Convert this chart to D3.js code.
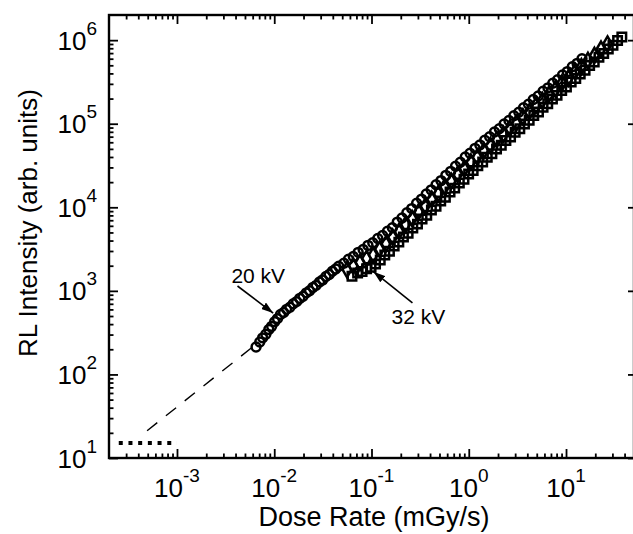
<!DOCTYPE html>
<html>
<head>
<meta charset="utf-8">
<script src="https://cdn.jsdelivr.net/npm/d3@7"></script>
<style>
  body { margin: 0; background: #fff; }
  text { font-family: "Liberation Sans", Arial, Helvetica, sans-serif; fill: #000; }
</style>
</head>
<body>
<svg id="chart" width="633" height="534"></svg>
<script>
// ---- data: dose rate (mGy/s) vs RL intensity (arb. units) ----
const series20kV = [
  [0.0065,213],[0.0071,244],[0.0076,274],[0.0082,303],[0.0088,345],[0.0094,376],[0.0101,428],
  [0.0108,466],[0.0116,522],[0.0125,552],[0.0134,601],[0.0145,637],[0.0157,701],[0.0170,744],
  [0.0183,813],[0.0198,862],[0.0214,947],[0.0231,1002],[0.0250,1101],[0.0270,1165],[0.0292,1280],
  [0.0315,1354],[0.0340,1484],[0.0367,1570],[0.0396,1720],[0.0428,1825],[0.046,1968],[0.052,2145],
  [0.058,2385],[0.065,2580],[0.073,2890],[0.082,3125],[0.092,3500],[0.103,3775],[0.116,4240],
  [0.130,4590],[0.146,5160],[0.164,5700],[0.184,6650],[0.206,7440],[0.231,8620],[0.259,9650],
  [0.291,11200],[0.327,12540],[0.366,14450],[0.411,16150],[0.461,18650],[0.518,20850],[0.581,24080],
  [0.652,26900],[0.731,31040],[0.820,34650],[0.921,40060],[1.03,44400],[1.16,50720],[1.30,55750],
  [1.46,63500],[1.64,69900],[1.84,79500],[2.06,87300],[2.31,99300],[2.59,109200],[2.91,124400],
  [3.27,137000],[3.66,155700],[4.11,171400],[4.61,195000],[5.18,214800],[5.81,244300],[6.52,268900],
  [7.31,305700],[8.20,336300],[9.21,383100],[10.3,420000],[11.6,479800],[13.0,527200],[14.6,600500]
];
const series26kV = [
  [0.056,1790],[0.065,1990],[0.076,2180],[0.089,2440],[0.104,2680],[0.121,3150],[0.141,3650],
  [0.165,4400],[0.192,5150],[0.224,6220],[0.262,7310],[0.305,8820],[0.356,10310],[0.416,12470],
  [0.485,14560],[0.566,17580],[0.660,20520],[0.770,24780],[0.899,28990],[1.05,34870],[1.22,39940],
  [1.43,47620],[1.67,54810],[1.94,64810],[2.27,74730],[2.64,88430],[3.08,101700],[3.60,121000],
  [4.20,139000],[4.90,165000],[5.71,189500],[6.67,225300],[7.78,258900],[9.07,307300],[10.6,353700],
  [12.4,421100],[14.4,482000],[16.8,572100],[19.6,657700],[22.9,782000],[26.7,898600]
];
const series32kV = [
  [0.063,1500],[0.072,1640],[0.080,1710],[0.089,1835],[0.099,1910],[0.110,2090],[0.123,2335],
  [0.137,2680],[0.153,2985],[0.171,3440],[0.191,3830],[0.213,4400],[0.238,4905],[0.266,5650],
  [0.297,6290],[0.331,7230],[0.370,8055],[0.413,9270],[0.461,10310],[0.515,11890],[0.575,13230],
  [0.642,15240],[0.717,16960],[0.800,19510],[0.893,21710],[0.997,24980],[1.11,27570],[1.24,31470],
  [1.39,34850],[1.55,39700],[1.73,43770],[1.93,49900],[2.16,55180],[2.41,62880],[2.69,69370],
  [3.00,79000],[3.35,87130],[3.74,99400],[4.18,109800],[4.66,125100],[5.21,138100],[5.81,157300],
  [6.49,173600],[7.25,198200],[8.09,218400],[9.03,249100],[10.1,275200],[11.3,314800],[12.6,346600],
  [14.0,393300],[15.7,435900],[17.5,496300],[19.5,546300],[21.8,624100],[24.4,690200],[27.2,786100],
  [30.4,867800],[33.9,988400],[37.5,1089000]
];
// extrapolated fit toward low dose rate, and the detection floor
const fitLine = [[4.93e-4, 21.2], [6.2e-3, 220]];
const noiseFloor = [[2.52e-4, 15.1], [1.0e-3, 15.1]];

// axis ticks
const xDomain = [2e-4, 50];
const yDomain = [10, 2e6];
const xMajorExps = [-3, -2, -1, 0, 1];
const yMajorExps = [1, 2, 3, 4, 5, 6];
const minorMults = [2, 3, 4, 5, 6, 7, 8, 9];

// annotations: [label, text anchor point, arrow tail, arrow head]
const notes = [
  { label: "20 kV", text: [3.63e-3, 1242], tail: [4.19e-3, 1143], head: [9.75e-3, 543] },
  { label: "32 kV", text: [0.1604, 406],  tail: [0.2637, 716],   head: [0.1047, 1698] }
];

// ---- layout ----
const plot = { left: 109, top: 15, right: 634, bottom: 458 };

const svg = d3.select("#chart");
const x = d3.scaleLog().domain(xDomain).range([plot.left, plot.right]);
const y = d3.scaleLog().domain(yDomain).range([plot.bottom, plot.top]);

function minorTicks(domain) {
  const out = [];
  const lo = Math.floor(Math.log10(domain[0])), hi = Math.ceil(Math.log10(domain[1]));
  for (let e = lo; e <= hi; e++) {
    for (const m of minorMults) {
      const v = m * Math.pow(10, e);
      if (v > domain[0] && v < domain[1]) out.push(v);
    }
  }
  return out;
}
const xMajor = xMajorExps.map(e => Math.pow(10, e));
const yMajor = yMajorExps.map(e => Math.pow(10, e));
const xMinor = minorTicks(xDomain);
const yMinor = minorTicks(yDomain);

// ---- axes (ticks pointing inward) ----
function tickAxis(axisFn, scale, values, size, transform) {
  const g = svg.append("g").attr("transform", transform)
    .call(axisFn(scale).tickValues(values).tickSize(size).tickFormat(""));
  g.select(".domain").remove();
  g.selectAll(".tick line").attr("stroke", "#000").attr("stroke-width", 1.8);
  return g;
}
tickAxis(d3.axisBottom, x, xMajor, -9, `translate(0,${plot.bottom})`);
tickAxis(d3.axisBottom, x, xMinor, -4.5, `translate(0,${plot.bottom})`);
tickAxis(d3.axisTop, x, xMajor, -9, `translate(0,${plot.top})`);
tickAxis(d3.axisTop, x, xMinor, -4.5, `translate(0,${plot.top})`);
tickAxis(d3.axisLeft, y, yMajor, -9, `translate(${plot.left},0)`);
tickAxis(d3.axisLeft, y, yMinor, -4.5, `translate(${plot.left},0)`);
tickAxis(d3.axisRight, y, yMajor, -6, `translate(${plot.right},0)`);

// frame
svg.append("rect")
  .attr("x", plot.left).attr("y", plot.top)
  .attr("width", plot.right - plot.left).attr("height", plot.bottom - plot.top)
  .attr("fill", "none").attr("stroke", "#000").attr("stroke-width", 2.4);

// tick labels 10^n
function powerLabel(sel, exp) {
  sel.append("tspan").text("10");
  sel.append("tspan").attr("font-size", 19).attr("dy", -15).text(String(exp));
}
xMajorExps.forEach(e => {
  const t = svg.append("text")
    .attr("x", x(Math.pow(10, e))).attr("y", 497)
    .attr("text-anchor", "middle").attr("font-size", 26);
  powerLabel(t, e);
});
yMajorExps.forEach(e => {
  const t = svg.append("text")
    .attr("x", 97).attr("y", y(Math.pow(10, e)) + 9.5)
    .attr("text-anchor", "end").attr("font-size", 26);
  powerLabel(t, e);
});

// axis titles
svg.append("text")
  .attr("x", 374).attr("y", 526)
  .attr("text-anchor", "middle").attr("font-size", 27)
  .text("Dose Rate (mGy/s)");
svg.append("text")
  .attr("transform", "translate(37,223) rotate(-90)")
  .attr("text-anchor", "middle").attr("font-size", 26)
  .text("RL Intensity (arb. units)");

// ---- lines ----
const line = d3.line().x(d => x(d[0])).y(d => y(d[1]));
svg.append("path").datum(fitLine).attr("d", line)
  .attr("fill", "none").attr("stroke", "#000").attr("stroke-width", 1.4)
  .attr("stroke-dasharray", "13,11");
svg.append("path").datum(noiseFloor).attr("d", line)
  .attr("fill", "none").attr("stroke", "#000").attr("stroke-width", 4)
  .attr("stroke-dasharray", "4,5.7");

// ---- data markers ----
const plotG = svg.append("g");
function drawSeries(data, type, size) {
  const sym = d3.symbol().type(type).size(size);
  plotG.append("g").selectAll("path").data(data).join("path")
    .attr("transform", d => `translate(${x(d[0])},${y(d[1])})`)
    .attr("d", sym)
    .attr("fill", "none").attr("stroke", "#000").attr("stroke-width", 2.5);
}
drawSeries(series32kV, d3.symbolSquare, 72);
drawSeries(series26kV, d3.symbolDiamond, 66);
drawSeries(series20kV, d3.symbolCircle, 62);

// ---- annotations ----
const defs = svg.append("defs");
defs.append("marker").attr("id", "head")
  .attr("viewBox", "0 0 12 8").attr("refX", 12).attr("refY", 4)
  .attr("markerWidth", 12).attr("markerHeight", 8)
  .attr("markerUnits", "userSpaceOnUse").attr("orient", "auto")
  .append("path").attr("d", "M0,0 L12,4 L0,8 Z").attr("fill", "#000");

notes.forEach(n => {
  svg.append("line")
    .attr("x1", x(n.tail[0])).attr("y1", y(n.tail[1]))
    .attr("x2", x(n.head[0])).attr("y2", y(n.head[1]))
    .attr("stroke", "#000").attr("stroke-width", 1.6)
    .attr("marker-end", "url(#head)");
  svg.append("text")
    .attr("x", x(n.text[0])).attr("y", y(n.text[1]))
    .attr("font-size", 21)
    .text(n.label);
});
</script>
</body>
</html>
